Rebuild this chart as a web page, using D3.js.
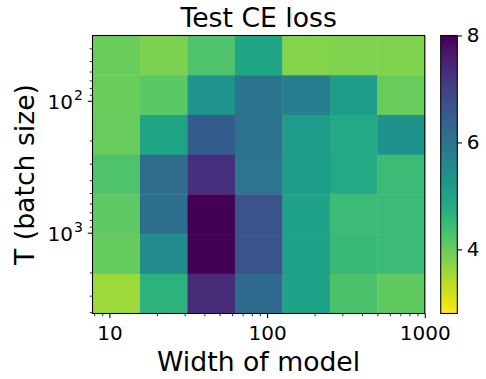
<!DOCTYPE html>
<html><head><meta charset="utf-8">
<script src="https://cdn.jsdelivr.net/npm/d3@7"></script>
<style>body{margin:0;background:#fff} text{font-family:"DejaVu Sans",sans-serif;fill:#000}</style>
</head><body><svg id="c" width="486" height="379"></svg>
<script>
// cell edges (log-spaced)
const widthEdges = [7.8125, 15.625, 31.25, 62.5, 125, 250, 500, 1000];
const batchEdges = [32, 64, 128, 256, 512, 1024, 2048, 4096];
// test CE loss, one array per batch-size row (top to bottom), columns by width
const lossT32   = [3.98, 3.82, 4.25, 4.92, 3.77, 3.80, 3.80];
const lossT64   = [3.98, 4.14, 5.30, 6.00, 5.80, 5.13, 4.00];
const lossT128  = [4.00, 4.97, 6.50, 6.05, 5.15, 4.87, 5.35];
const lossT256  = [4.25, 6.17, 7.27, 5.98, 5.13, 4.87, 4.45];
const lossT512  = [4.10, 6.10, 8.00, 6.70, 5.00, 4.45, 4.45];
const lossT1024 = [4.02, 5.50, 8.00, 6.70, 5.00, 4.50, 4.45];
const lossT2048 = [3.56, 4.65, 7.37, 6.20, 5.00, 4.27, 4.07];
const lossRows = [lossT32, lossT64, lossT128, lossT256, lossT512, lossT1024, lossT2048];
const xTicks = [10, 100, 1000];
const yTicks = [100, 1000];
const cbTicks = [4, 6, 8];
const cRange = [2.8, 8];

const svg = d3.select("#c");
const L = 92.5, R = 424.8, T = 35.5, B = 313.5;
const x = d3.scaleLog().domain([widthEdges[0], widthEdges[widthEdges.length-1]]).range([L, R]);
const y = d3.scaleLog().domain([batchEdges[0], batchEdges[batchEdges.length-1]]).range([T, B]);
const color = d3.scaleSequential(v => d3.interpolateViridis(1 - v)).domain(cRange);

// cells
const cells = [];
lossRows.forEach((row, i) => row.forEach((v, j) => cells.push({i, j, v})));
svg.append("g").selectAll("rect").data(cells).join("rect")
  .attr("x", d => x(widthEdges[d.j]))
  .attr("y", d => y(batchEdges[d.i]))
  .attr("width", d => x(widthEdges[d.j+1]) - x(widthEdges[d.j]) + 0.4)
  .attr("height", d => y(batchEdges[d.i+1]) - y(batchEdges[d.i]) + 0.4)
  .attr("fill", d => color(d.v));

// minor tick values
function minors(lo, hi) {
  const out = [];
  for (let p = Math.floor(Math.log10(lo)); p <= Math.ceil(Math.log10(hi)); p++)
    for (let k = 2; k <= 9; k++) { const v = k * Math.pow(10, p); if (v >= lo && v <= hi) out.push(v); }
  return out;
}
function styleAxis(g, w) { g.select(".domain").remove(); g.selectAll("line").attr("stroke", "#000").attr("stroke-width", w); }

// x axis
const gxMinor = svg.append("g").attr("transform", `translate(0,${B})`)
  .call(d3.axisBottom(x).tickValues(minors(widthEdges[0], 1000)).tickSize(2.8).tickFormat(""));
styleAxis(gxMinor, 0.8);
const gx = svg.append("g").attr("transform", `translate(0,${B})`)
  .call(d3.axisBottom(x).tickValues(xTicks).tickSize(4.7).tickPadding(4.7).tickFormat(d3.format("d")));
styleAxis(gx, 1.07);
gx.selectAll("text").attr("font-size", 20).attr("dy", null).attr("y", 26).attr("font-family", "DejaVu Sans");

// y axis
const gyMinor = svg.append("g").attr("transform", `translate(${L},0)`)
  .call(d3.axisLeft(y).tickValues(minors(batchEdges[0], batchEdges[batchEdges.length-1])).tickSize(2.8).tickFormat(""));
styleAxis(gyMinor, 0.8);
const gy = svg.append("g").attr("transform", `translate(${L},0)`)
  .call(d3.axisLeft(y).tickValues(yTicks).tickSize(4.7).tickFormat(""));
styleAxis(gy, 1.07);
gy.selectAll(".tick").each(function(d) {
  const t = d3.select(this).append("text").attr("x", -9.7).attr("y", 7.3)
    .attr("text-anchor", "end").attr("font-size", 20).attr("fill", "#000");
  t.append("tspan").text("10");
  t.append("tspan").attr("font-size", 14).attr("dy", -8.5).attr("dx", 1).text(String(Math.round(Math.log10(d))));
});

// frame
svg.append("rect").attr("x", L).attr("y", T).attr("width", R - L).attr("height", B - T)
  .attr("fill", "none").attr("stroke", "#000").attr("stroke-width", 1.07);

// labels
svg.append("text").attr("x", (L + R) / 2).attr("y", 26.7).attr("text-anchor", "middle")
  .attr("font-size", 26.67).text("Test CE loss");
svg.append("text").attr("x", (L + R) / 2).attr("y", 370.7).attr("text-anchor", "middle")
  .attr("font-size", 26.67).text("Width of model");
svg.append("text").attr("transform", `translate(34.3,${(T + B) / 2}) rotate(-90)`).attr("text-anchor", "middle")
  .attr("font-size", 26.67).text("T (batch size)");

// colorbar
const cbL = 440.7, cbW = 16.6;
const cy = d3.scaleLinear().domain(cRange).range([B, T]);
const defs = svg.append("defs");
const grad = defs.append("linearGradient").attr("id", "cbg").attr("x1", 0).attr("y1", 1).attr("x2", 0).attr("y2", 0);
d3.range(0, 1.0001, 0.02).forEach(t => grad.append("stop").attr("offset", t)
  .attr("stop-color", color(cRange[0] + t * (cRange[1] - cRange[0]))));
svg.append("rect").attr("x", cbL).attr("y", T).attr("width", cbW).attr("height", B - T)
  .attr("fill", "url(#cbg)").attr("stroke", "#000").attr("stroke-width", 1.07);
const gcb = svg.append("g").attr("transform", `translate(${cbL + cbW},0)`)
  .call(d3.axisRight(cy).tickValues(cbTicks).tickSize(4.7).tickPadding(4.7).tickFormat(d3.format("d")));
styleAxis(gcb, 1.07);
gcb.selectAll("text").attr("font-size", 20).attr("font-family", "DejaVu Sans");
</script></body></html>
